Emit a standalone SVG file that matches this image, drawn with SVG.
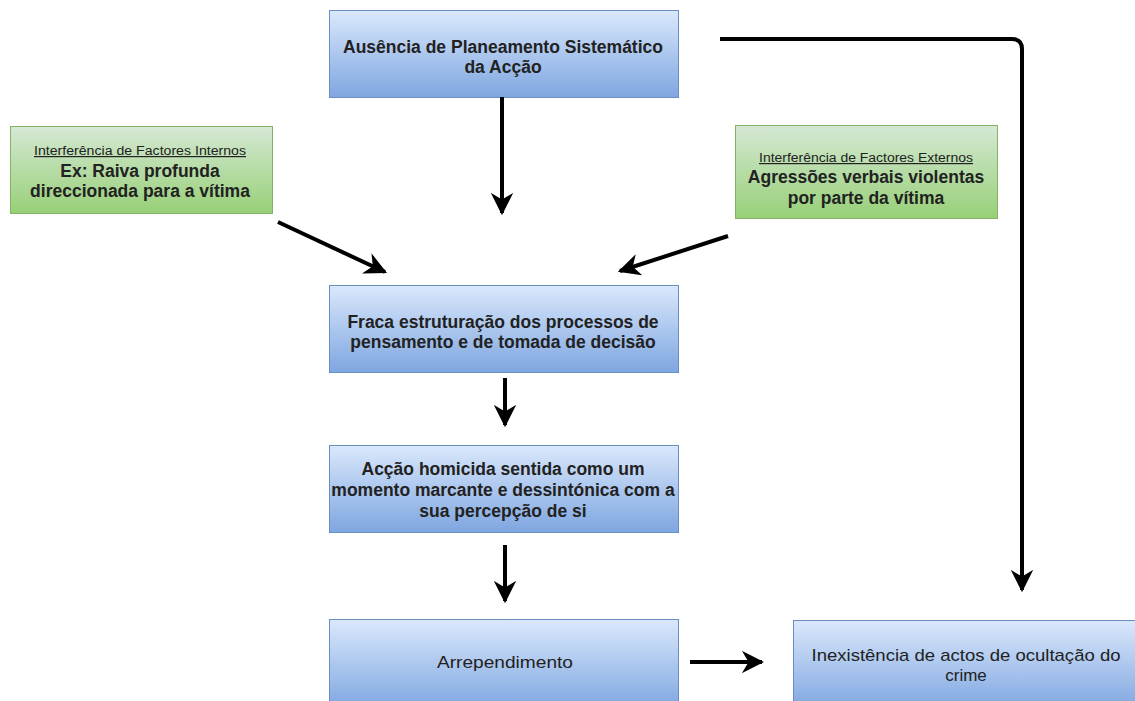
<svg xmlns="http://www.w3.org/2000/svg" width="1135" height="701" viewBox="0 0 1135 701">
<defs>
<linearGradient id="gb" x1="0" y1="0" x2="0" y2="1"><stop offset="0" stop-color="#dae8fc"/><stop offset="1" stop-color="#7ea6e0"/></linearGradient>
<linearGradient id="gg" x1="0" y1="0" x2="0" y2="1"><stop offset="0" stop-color="#d5e8d4"/><stop offset="1" stop-color="#97d077"/></linearGradient>
<marker id="ah" viewBox="0 0 10 10" refX="9" refY="5" markerWidth="5.6" markerHeight="5.6" orient="auto" markerUnits="strokeWidth"><path d="M0,0 L10,5 L0,10 L3,5 Z" fill="#000"/></marker>
</defs>
<style>
.b{fill:url(#gb);stroke:#6c8ebf;stroke-width:1}
.g{fill:url(#gg);stroke:#82b366;stroke-width:1}
text{font-family:"Liberation Sans",Arial,sans-serif;fill:#222;text-anchor:middle}
.t{font-size:17.5px;font-weight:bold}
.n{font-size:17px}
.s{font-size:12px;text-decoration:underline}
.c{fill:none;stroke:#000;stroke-width:4;marker-end:url(#ah)}
</style>
<rect width="1135" height="701" fill="#fff"/>
<g id="n1"><rect class="b" x="329.5" y="10.5" width="349" height="87"/><text class="t" x="503" y="53">Ausência de Planeamento Sistemático</text><text class="t" x="503" y="73">da Acção</text></g>
<g id="n2"><rect class="g" x="10.5" y="126.5" width="262" height="87"/><text class="s" x="140" y="155" textLength="212" lengthAdjust="spacingAndGlyphs">Interferência de Factores Internos</text><text class="t" x="140" y="177">Ex: Raiva profunda</text><text class="t" x="140" y="197">direccionada para a vítima</text></g>
<g id="n3"><rect class="g" x="735.5" y="125.5" width="262" height="93"/><text class="s" x="866" y="162" textLength="214" lengthAdjust="spacingAndGlyphs">Interferência de Factores Externos</text><text class="t" x="866" y="183">Agressões verbais violentas</text><text class="t" x="866" y="204">por parte da vítima</text></g>
<g id="n4"><rect class="b" x="329.5" y="285.5" width="349" height="87"/><text class="t" x="503" y="328">Fraca estruturação dos processos de</text><text class="t" x="503" y="348">pensamento e de tomada de decisão</text></g>
<g id="n5"><rect class="b" x="329.5" y="445.5" width="349" height="87"/><text class="t" x="503" y="475">Acção homicida sentida como um</text><text class="t" x="503" y="496">momento marcante e dessintónica com a</text><text class="t" x="503" y="517">sua percepção de si</text></g>
<g id="n6"><rect class="b" x="329.5" y="619.5" width="349" height="90"/><text class="n" x="505" y="668" textLength="136" lengthAdjust="spacingAndGlyphs">Arrependimento</text></g>
<g id="n7"><rect class="b" x="793.5" y="620.5" width="350" height="90"/><text class="n" x="966" y="661" textLength="309" lengthAdjust="spacingAndGlyphs">Inexistência de actos de ocultação do</text><text class="n" x="966" y="681">crime</text></g>
<g id="connectors">
<path class="c" d="M502,97 L502,213"/>
<path class="c" d="M278,222 L385,272"/>
<path class="c" d="M728,236 L620,271"/>
<path class="c" d="M505,378 L505,425"/>
<path class="c" d="M505,545 L505,601"/>
<path class="c" d="M690,662 L762,662"/>
<path class="c" d="M720,39 L1012,39 Q1022,39 1022,49 L1022,590"/>
</g>
</svg>
